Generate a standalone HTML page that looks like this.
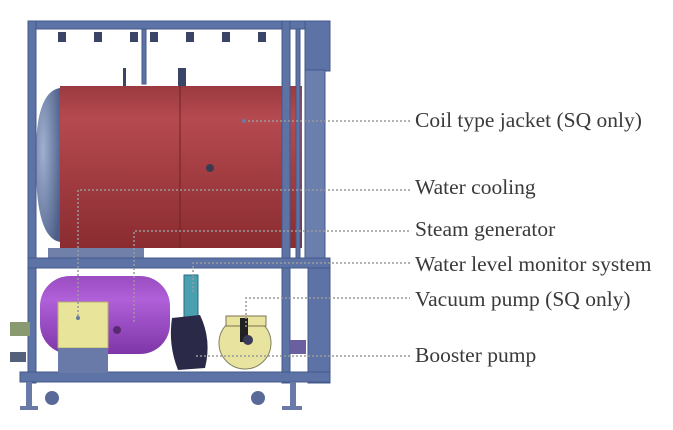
<!DOCTYPE html>
<html><head><style>
html,body{margin:0;padding:0;background:#fff;}
.t{position:absolute;left:415px;font-family:"Liberation Serif",serif;font-size:21.5px;color:#3a3a3a;white-space:nowrap;line-height:1;}
</style></head><body>
<div style="position:relative;width:673px;height:430px;overflow:hidden;">
<svg width="673" height="430" style="position:absolute;left:0;top:0">
<defs>
<linearGradient id="red" x1="0" y1="0" x2="0" y2="1"><stop offset="0" stop-color="#9a3a40"/><stop offset=".2" stop-color="#b54a50"/><stop offset="1" stop-color="#8a2c30"/></linearGradient>
<radialGradient id="dome" cx=".3" cy=".4" r=".8"><stop offset="0" stop-color="#9fb0d0"/><stop offset="1" stop-color="#4c5e88"/></radialGradient>
<linearGradient id="pur" x1="0" y1="0" x2="0" y2="1"><stop offset="0" stop-color="#9a4cc0"/><stop offset=".3" stop-color="#b060d8"/><stop offset="1" stop-color="#7e36a8"/></linearGradient>
</defs>
<!-- tank -->
<path d="M60 88 Q34 92 36 165 Q36 238 60 242 Z" fill="url(#dome)"/>
<rect x="60" y="86" width="242" height="162" fill="url(#red)"/>
<line x1="180" y1="86" x2="180" y2="248" stroke="#6e2226" stroke-width="1"/>
<circle cx="210" cy="168" r="4" fill="#3b3b50"/>
<rect x="48" y="248" width="96" height="10" fill="#7080a8"/>
<g fill="#5d73a6" stroke="#44588a" stroke-width="1">
<rect x="28" y="21" width="302" height="8"/>
<rect x="28" y="21" width="8" height="362"/>
<rect x="142" y="29" width="4" height="55"/>
<rect x="282" y="21" width="8" height="362"/>
<rect x="296" y="29" width="4" height="230"/>
<rect x="305" y="21" width="25" height="50"/>
<rect x="305" y="70" width="20" height="190" fill="#6a7fae"/>
<rect x="308" y="263" width="22" height="120"/>
<rect x="28" y="258" width="302" height="10"/>
<rect x="20" y="372" width="310" height="10"/>
</g>
<g fill="#3a4466">
<rect x="58" y="32" width="8" height="10"/><rect x="94" y="32" width="8" height="10"/><rect x="130" y="32" width="8" height="10"/><rect x="150" y="32" width="8" height="10"/><rect x="186" y="32" width="8" height="10"/><rect x="222" y="32" width="8" height="10"/><rect x="258" y="32" width="8" height="10"/>
<rect x="123" y="68" width="3" height="18"/><rect x="178" y="68" width="8" height="18"/>
</g>
<!-- purple tank -->
<rect x="40" y="276" width="130" height="78" rx="30" fill="url(#pur)"/>
<rect x="58" y="302" width="50" height="46" fill="#e8e49a" stroke="#b8b070"/>
<rect x="58" y="348" width="50" height="25" fill="#6a7aa8"/>
<circle cx="117" cy="330" r="4" fill="#5a2a70"/>
<rect x="10" y="322" width="20" height="14" fill="#8a9a70"/>
<rect x="10" y="352" width="16" height="10" fill="#55607a"/>
<rect x="184" y="275" width="14" height="45" fill="#4aa0b0" stroke="#2a6a80"/>
<path d="M172 318 L200 315 Q212 340 205 368 L178 370 Q168 345 172 318Z" fill="#2a2a48"/>
<circle cx="245" cy="343" r="26" fill="#e8e4a0" stroke="#808060"/>
<rect x="226" y="316" width="40" height="10" fill="#e8e4a0" stroke="#807050"/>
<rect x="240" y="318" width="8" height="24" fill="#222"/>
<circle cx="248" cy="340" r="5" fill="#3a3a5a"/>
<rect x="290" y="340" width="16" height="14" fill="#6a60a0"/>
<g fill="#6a7aa8">
<rect x="26" y="382" width="6" height="26"/><rect x="20" y="406" width="18" height="4"/>
<rect x="290" y="382" width="6" height="26"/><rect x="282" y="406" width="20" height="4"/>
</g>
<circle cx="52" cy="398" r="7" fill="#5a6a98"/>
<circle cx="258" cy="398" r="7" fill="#5a6a98"/>
<g stroke="#999" stroke-width="1.5" stroke-dasharray="2,2" fill="none">
<path d="M244 121 H410"/>
<path d="M78 320 V190 H410"/>
<path d="M134 322 V231 H410"/>
<path d="M193 292 V263 H410"/>
<path d="M246 327 V298 H410"/>
<path d="M196 356 H410"/>
</g>
<g fill="#6a7aa0"><circle cx="244" cy="121" r="2"/><circle cx="78" cy="318" r="2"/></g>
</svg>
<div class="t" style="top:110px">Coil type jacket (SQ only)</div>
<div class="t" style="top:177px">Water cooling</div>
<div class="t" style="top:219px">Steam generator</div>
<div class="t" style="top:254px">Water level monitor system</div>
<div class="t" style="top:289px">Vacuum pump (SQ only)</div>
<div class="t" style="top:345px">Booster pump</div>
</div>
</body></html>
